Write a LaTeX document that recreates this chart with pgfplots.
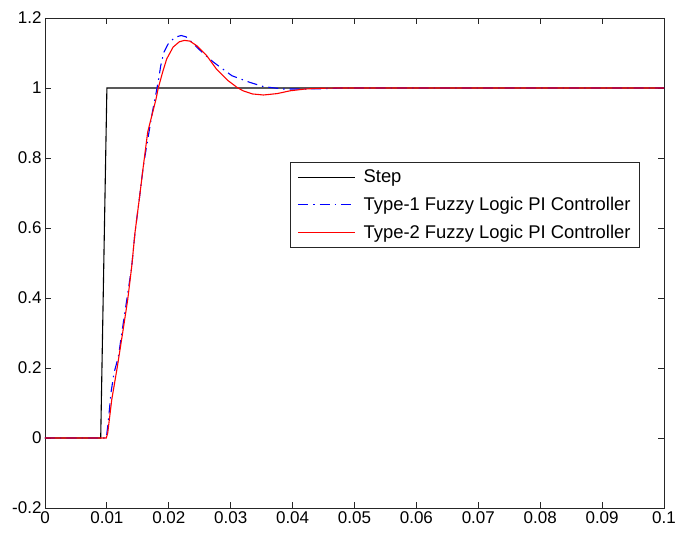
\documentclass[border=0pt]{standalone}
\usepackage{fontspec}
\setmainfont{Liberation Sans}
\usepackage{pgfplots}
\pgfplotsset{compat=1.18}
\definecolor{mlblue}{HTML}{0000FF}
\definecolor{mlred}{HTML}{FF0000}
\definecolor{axgray}{HTML}{262626}

\begin{document}
\begin{tikzpicture}
\begin{axis}[name=ax,
  scale only axis, width=619pt, height=490pt,
  xmin=0, xmax=0.1, ymin=-0.2, ymax=1.2,
  xtick={0,0.01,...,0.1}, ytick={-0.2,0,...,1.2},
  scaled x ticks=false, scaled y ticks=false,
  xticklabels={0,0.01,0.02,0.03,0.04,0.05,0.06,0.07,0.08,0.09,0.1},
  yticklabels={-0.2,0,0.2,0.4,0.6,0.8,1,1.2},
  tick align=inside, major tick length=6pt,
  xtick pos=both, ytick pos=both,
  axis line style={draw=axgray, line width=0.9pt},
  tick style={draw=axgray, line width=0.9pt},
  tick label style={font=\fontsize{17}{20}\selectfont, text=black},
  /pgf/number format/assume math mode=true,
  legend style={at={(0.396,0.706)}, anchor=north west, draw=axgray, line width=0.8pt,
    font=\fontsize{18.4}{22}\selectfont, inner xsep=7pt, inner ysep=5.5pt,
    row sep=9pt, /tikz/every odd column/.append style={column sep=6pt}},
  legend cell align=left,
  legend image code/.code={\draw[#1] (0pt,0pt) -- (57pt,0pt);},
]
\addplot[black, line width=1.1pt] coordinates {(0,0) (0.009,0) (0.0100,1) (0.1,1)};
\addplot[mlblue, line width=1.1pt, dash pattern=on 10pt off 5pt on 1.5pt off 5pt] coordinates {
(0,0) (0.0099,0) (0.0102,0.043) (0.01066,0.129) (0.01115,0.186) (0.01185,0.232)
(0.01265,0.329) (0.01346,0.424) (0.01401,0.49) (0.01454,0.587) (0.01523,0.682)
(0.01588,0.776) (0.01723,0.92) (0.0181,1.0) (0.0184,1.03) (0.0187,1.064)
(0.0192,1.102) (0.0199,1.126) (0.0210,1.145) (0.0220,1.150) (0.0228,1.146)
(0.0237,1.131) (0.0255,1.100) (0.0272,1.074) (0.0302,1.035) (0.0331,1.016)
(0.0353,1.004) (0.0385,0.997) (0.0412,0.997) (0.0450,0.998) (0.048,1.0) (0.1,1.0)};
\addplot[mlred, line width=1.1pt] coordinates {
(0,0) (0.0099,0) (0.01013,0.014) (0.01078,0.109) (0.01168,0.203) (0.01255,0.301)
(0.01336,0.395) (0.01401,0.490) (0.01454,0.587) (0.01523,0.682) (0.01588,0.776)
(0.01659,0.874) (0.01793,0.968) (0.0183,1.0) (0.0190,1.045) (0.01966,1.083)
(0.0207,1.117) (0.0217,1.132) (0.0225,1.136) (0.0234,1.134) (0.0245,1.121)
(0.0261,1.093) (0.0277,1.054) (0.0295,1.022) (0.0310,1.002) (0.0320,0.992)
(0.0335,0.983) (0.0353,0.980) (0.0375,0.984) (0.0396,0.992) (0.0420,0.997)
(0.0439,0.999) (0.047,1.0) (0.1,1.0)};
\legend{Step, Type-1 Fuzzy Logic PI Controller, Type-2 Fuzzy Logic PI Controller}
\end{axis}
\pgfresetboundingbox
\path ([shift={(-45pt,-25pt)}]ax.south west) rectangle ([shift={(12pt,18pt)}]ax.north east);
\end{tikzpicture}
\end{document}
